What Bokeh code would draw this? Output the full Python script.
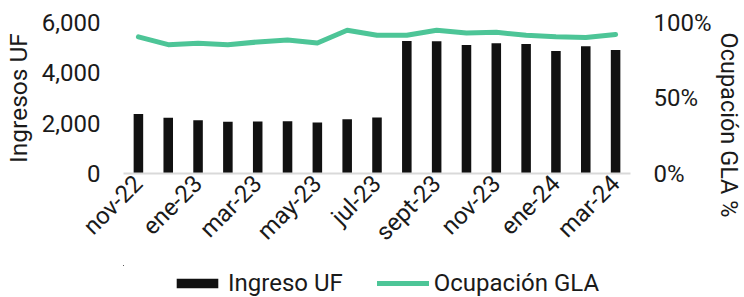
from math import pi
from bokeh.plotting import figure
from bokeh.layouts import column
from bokeh.models import (Range1d, LinearAxis, FixedTicker, NumeralTickFormatter,
                          Legend, LegendItem, Title)
from bokeh.embed import file_html
from bokeh.resources import INLINE

meses = ["nov-22", "dic-22", "ene-23", "feb-23", "mar-23", "abr-23", "may-23", "jun-23",
         "jul-23", "ago-23", "sept-23", "oct-23", "nov-23", "dic-23", "ene-24", "feb-24", "mar-24"]
ingreso_uf = [2360, 2213, 2120, 2053, 2067, 2080, 2027, 2160, 2227,
              5267, 5253, 5107, 5173, 5147, 4867, 5053, 4907]
ocupacion_gla = [0.905, 0.853, 0.862, 0.853, 0.871, 0.884, 0.864, 0.949, 0.915,
                 0.915, 0.949, 0.931, 0.935, 0.915, 0.905, 0.900, 0.920]
ticks_izq = [0, 2000, 4000, 6000]
ticks_der = [0, 0.5, 1.0]

FONT = "Roboto"
TXT = "#1a1a1a"
VERDE = "#4DC597"
NEGRO = "#111111"

idx = list(range(len(meses)))

p = figure(width=744, height=265, x_range=Range1d(-0.5, len(meses) - 0.5), y_range=Range1d(0, 6000),
           output_backend="svg", toolbar_location=None,
           min_border_left=120, min_border_right=114, min_border_top=22, min_border_bottom=92)
p.outline_line_color = None
p.grid.visible = False
p.background_fill_color = "white"
p.border_fill_color = "white"

p.extra_y_ranges = {"pct": Range1d(0, 1)}

bars = p.vbar(x=idx, top=ingreso_uf, width=0.32, fill_color=NEGRO, line_color=None)
line = p.line(x=idx, y=ocupacion_gla, y_range_name="pct", line_width=5, line_color=VERDE,
              line_join="round", line_cap="round")

# x axis
xa = p.xaxis[0]
xa.ticker = FixedTicker(ticks=idx[::2])
xa.major_label_overrides = {i: meses[i] for i in idx[::2]}
xa.axis_line_color = "#d9d9d9"
xa.axis_line_width = 2
xa.major_tick_line_color = None
xa.minor_tick_line_color = None
xa.major_tick_out = 0
xa.major_label_orientation = pi / 4
xa.major_label_standoff = 6
xa.major_label_text_font = FONT
xa.major_label_text_font_size = "24px"
xa.major_label_text_color = TXT

# left axis
ya = p.yaxis[0]
ya.ticker = FixedTicker(ticks=ticks_izq)
ya.formatter = NumeralTickFormatter(format="0,0")
ya.axis_line_color = None
ya.major_tick_line_color = None
ya.minor_tick_line_color = None
ya.major_tick_out = 0
ya.major_label_standoff = 23
ya.major_label_text_font = FONT
ya.major_label_text_font_size = "24px"
ya.major_label_text_color = TXT
ya.axis_label = "Ingresos UF"
ya.axis_label_standoff = 6
ya.axis_label_text_font = FONT
ya.axis_label_text_font_size = "24.5px"
ya.axis_label_text_font_style = "normal"
ya.axis_label_text_color = TXT

# right axis
ra = LinearAxis(y_range_name="pct", ticker=FixedTicker(ticks=ticks_der),
                formatter=NumeralTickFormatter(format="0%"))
ra.axis_line_color = None
ra.major_tick_line_color = None
ra.minor_tick_line_color = None
ra.major_tick_out = 0
ra.major_label_standoff = 23
ra.major_label_text_font = FONT
ra.major_label_text_font_size = "24px"
ra.major_label_text_color = TXT
p.add_layout(ra, "right")

rt = Title(text="Ocupación GLA %", align="left", offset=10, standoff=0,
           text_font=FONT, text_font_size="23.5px", text_font_style="normal", text_color=TXT)
p.add_layout(rt, "right")

# legend strip below the chart (its frame lines up with the chart's frame);
# its view range is kept away from the data so only the legend shows
lp = figure(width=744, height=32, x_range=Range1d(100, 117), y_range=Range1d(-2, -1),
            output_backend="svg", toolbar_location=None,
            x_axis_location=None, y_axis_location=None,
            min_border_left=0, min_border_right=0, min_border_top=0, min_border_bottom=0)
lp.outline_line_color = None
lp.grid.visible = False
lp.background_fill_color = "white"
lp.border_fill_color = "white"
lbar = lp.vbar(x=idx, top=ingreso_uf, width=0.32, fill_color=NEGRO, line_color=None)
lline = lp.line(x=idx, y=ocupacion_gla, line_width=5, line_color=VERDE, line_cap="round")
legend = Legend(items=[LegendItem(label="Ingreso UF", renderers=[lbar]),
                       LegendItem(label="Ocupación GLA", renderers=[lline])],
                orientation="horizontal", location=(48, 0),
                glyph_width=52, glyph_height=12, label_standoff=5, spacing=34,
                padding=0, margin=0, border_line_color=None, background_fill_alpha=0,
                label_text_font=FONT, label_text_font_size="24px", label_text_color=TXT)
lp.add_layout(legend)

layout = column(p, lp, spacing=0)
open("out.html", "w").write(file_html(layout, INLINE))
